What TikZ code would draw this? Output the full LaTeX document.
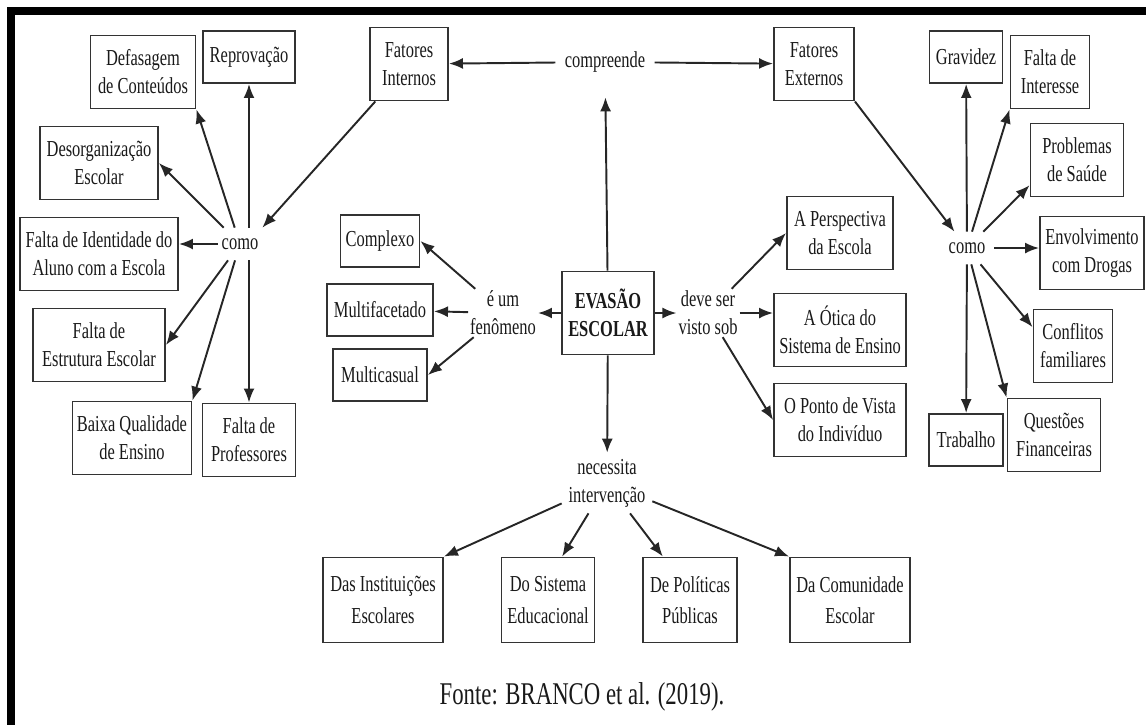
\documentclass[tikz,border=0pt]{standalone}
\usepackage{fontspec}
\setmainfont{Liberation Serif}[FakeStretch=0.72]
\usetikzlibrary{arrows.meta}

\tikzset{
	caixa/.style={draw=black!80, line width=1.1pt, align=center, inner sep=1pt, minimum height=1.46cm},
	caixa1/.style={caixa, minimum height=1.04cm},
	caixa2/.style={caixa, minimum height=1.7cm, font=\fontsize{13}{18}\selectfont},
	rotulo/.style={align=center, inner sep=1pt},
	seta/.style={-{Latex[length=2.8mm,width=2.2mm]}, line width=1.1pt, draw=black!85},
}

\begin{document}
\begin{tikzpicture}[x=0.02cm, y=-0.02cm, font=\fontsize{13}{16}\selectfont, text=black!90]
	\useasboundingbox (0,0) rectangle (1146,725);
	\fill (7,7) rectangle (15,725);
	\fill (7,7) rectangle (1146,15);
	% centro
	\node[caixa, minimum width=1.84cm, minimum height=1.66cm, font=\fontsize{13}{16}\selectfont\bfseries] (evasao) at (608,313) {EVASÃO\\ESCOLAR};
	\node[rotulo, inner xsep=0.18cm, minimum height=1.4cm] (compreende) at (605,62) {compreende};
	\node[rotulo] (eum) at (503,313) {é um\\fenômeno};
	\node[rotulo] (deve) at (708,313) {deve ser\\visto sob};
	\node[rotulo, minimum width=1.8cm, minimum height=1.2cm] (necessita) at (607,483) {necessita\\intervenção};
	% fatores internos
	\node[caixa, minimum width=1.56cm] (internos) at (409,64) {Fatores\\Internos};
	\node[rotulo, minimum width=0.88cm, minimum height=0.64cm] (comoint) at (240,244) {como};
	\node[caixa, minimum width=2.1cm] (defasagem) at (143,72) {Defasagem\\de Conteúdos};
	\node[caixa1, minimum width=1.84cm] (reprovacao) at (249,57) {Reprovação};
	\node[caixa, minimum width=2.36cm] (desorg) at (99,163) {Desorganização\\Escolar};
	\node[caixa, minimum width=3.16cm] (identidade) at (99,254) {Falta de Identidade do\\Aluno com a Escola};
	\node[caixa, minimum width=2.64cm] (estrutura) at (99,345) {Falta de\\Estrutura Escolar};
	\node[caixa, minimum width=2.38cm] (qualidade) at (132,438) {Baixa Qualidade\\de Ensino};
	\node[caixa, minimum width=1.86cm] (professores) at (249,440) {Falta de\\Professores};
	% fenomeno
	\node[caixa1, minimum width=1.58cm] (complexo) at (380,241) {Complexo};
	\node[caixa1, minimum width=2.12cm] (multifacetado) at (380,310) {Multifacetado};
	\node[caixa1, minimum width=1.88cm] (multicasual) at (380,375) {Multicasual};
	% fatores externos
	\node[caixa, minimum width=1.6cm] (externos) at (814,64) {Fatores\\Externos};
	\node[rotulo, minimum width=1.08cm, minimum height=0.64cm] (comoext) at (967,248) {como};
	\node[caixa1, minimum width=1.46cm] (gravidez) at (966,57) {Gravidez};
	\node[caixa, minimum width=1.58cm] (interesse) at (1050,72) {Falta de\\Interesse};
	\node[caixa, minimum width=1.86cm] (saude) at (1077,160) {Problemas\\de Saúde};
	\node[caixa, minimum width=2.08cm] (drogas) at (1092,253) {Envolvimento\\com Drogas};
	\node[caixa, minimum width=1.58cm] (conflitos) at (1073,346) {Conflitos\\familiares};
	\node[caixa, minimum width=1.86cm] (financeiras) at (1054,435) {Questões\\Financeiras};
	\node[caixa1, minimum width=1.48cm] (trabalho) at (966,440) {Trabalho};
	% visto sob
	\node[caixa, minimum width=2.12cm] (perspectiva) at (840,233) {A Perspectiva\\da Escola};
	\node[caixa, minimum width=2.64cm] (otica) at (840,330) {A Ótica do\\Sistema de Ensino};
	\node[caixa, minimum width=2.64cm] (ponto) at (840,420) {O Ponto de Vista\\do Indivíduo};
	% intervencao
	\node[caixa2, minimum width=2.4cm] (instituicoes) at (383,600) {Das Instituições\\Escolares};
	\node[caixa2, minimum width=1.86cm] (sistema) at (548,600) {Do Sistema\\Educacional};
	\node[caixa2, minimum width=1.88cm] (politicas) at (690,600) {De Políticas\\Públicas};
	\node[caixa2, minimum width=2.4cm] (comunidade) at (850,600) {Da Comunidade\\Escolar};
	\node[font=\fontsize{18}{20}\selectfont] (fonte) at (582,697) {Fonte: BRANCO et al. (2019).};

	\draw[seta] (evasao) -- (compreende);
	\draw[seta] (compreende) -- (internos);
	\draw[seta] (compreende) -- (externos);
	\draw[seta] (evasao) -- (eum);
	\draw[seta] (evasao) -- (deve);
	\draw[seta] (evasao) -- (necessita);
	\draw[seta] (internos.-132) -- (comoint.north east);
	\draw[seta] (comoint) -- (defasagem.south east);
	\draw[seta] (comoint.north -| reprovacao.south) -- (reprovacao.south);
	\draw[seta] (comoint) -- (desorg.east);
	\draw[seta] (comoint.west) -- (comoint.west -| identidade.east);
	\draw[seta] (comoint) -- (estrutura.east);
	\draw[seta] (comoint) -- (qualidade.north east);
	\draw[seta] (comoint.south -| professores.north) -- (professores.north);
	\draw[seta] (eum) -- (complexo.east);
	\draw[seta] (eum) -- (multifacetado);
	\draw[seta] (eum) -- (multicasual.east);
	\draw[seta] (deve) -- (perspectiva.west);
	\draw[seta] (deve.east) -- (deve.east -| otica.west);
	\draw[seta] (deve) -- (ponto.west);
	\draw[seta] (necessita) -- (instituicoes.north east);
	\draw[seta] (necessita) -- (sistema.72);
	\draw[seta] (necessita) -- (politicas.122);
	\draw[seta] (necessita) -- (comunidade.north west);
	\draw[seta] (externos.south east) -- (comoext);
	\draw[seta] (comoext) -- (gravidez);
	\draw[seta] (comoext) -- (interesse.south west);
	\draw[seta] (comoext) -- (saude.-152);
	\draw[seta] (comoext.east) -- (comoext.east -| drogas.west);
	\draw[seta] (comoext) -- (conflitos.155);
	\draw[seta] (comoext) -- (financeiras.north west);
	\draw[seta] (comoext) -- (trabalho);
\end{tikzpicture}
\end{document}
